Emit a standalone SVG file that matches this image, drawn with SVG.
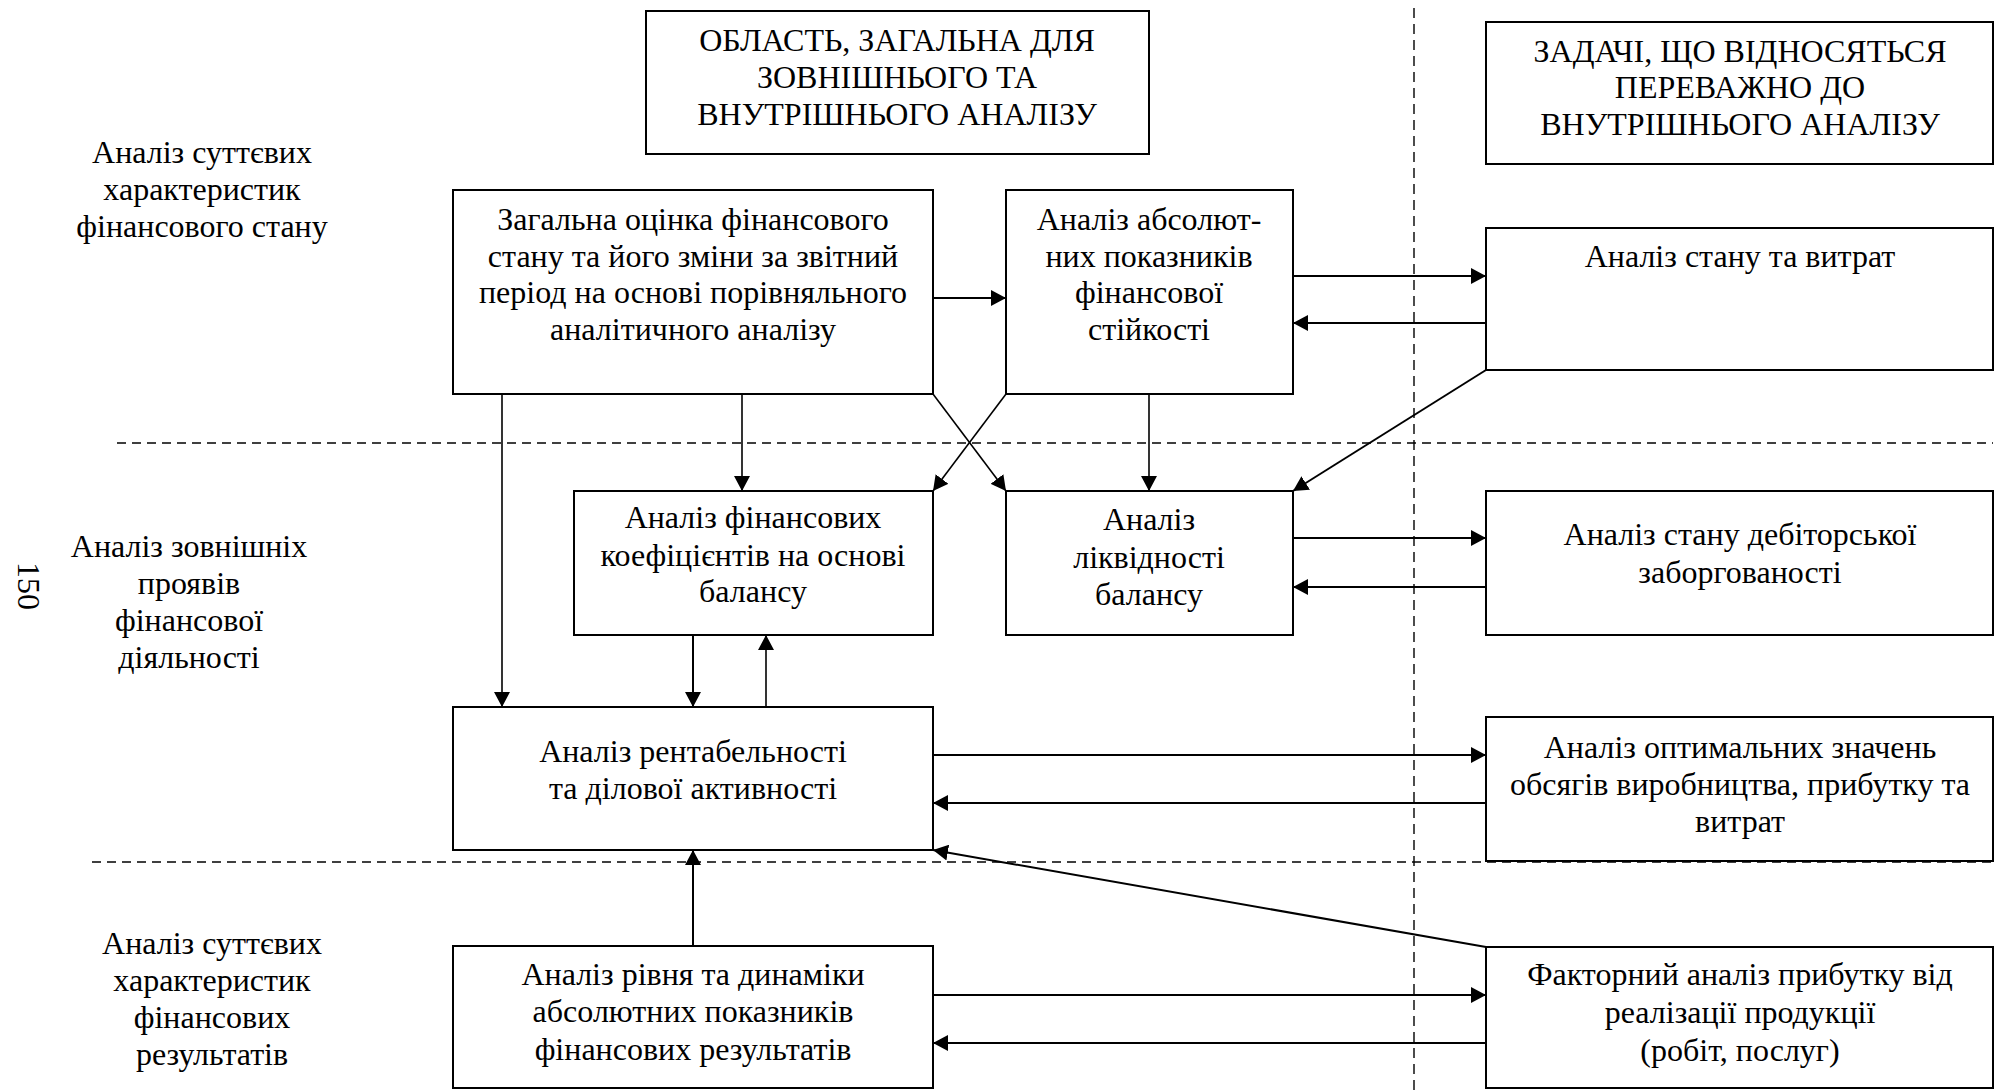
<svg xmlns="http://www.w3.org/2000/svg" width="1996" height="1090" viewBox="0 0 1996 1090">
  <style>
    .bg { fill: #ffffff; }
    .box { fill: #ffffff; stroke: #000000; stroke-width: 2; }
    .t { font-family: "Liberation Serif", "Times New Roman", serif; font-size: 32px; fill: #000000; text-anchor: middle; }
    .dash { fill: none; stroke: #000000; stroke-width: 1.6; stroke-dasharray: 9 6; }
    .vdash { fill: none; stroke: #000000; stroke-width: 1.4; stroke-dasharray: 10 6; }
    .ar { fill: none; stroke: #000000; stroke-width: 2; marker-end: url(#head); }
    .thin { stroke-width: 1.6; }
  </style>
  <defs>
    <marker id="head" markerUnits="userSpaceOnUse" markerWidth="16" markerHeight="16" refX="15" refY="8" orient="auto">
      <path d="M0,0 L15,8 L0,16 Z" fill="#000000"/>
    </marker>
  </defs>

  <rect class="bg" x="0" y="0" width="1996" height="1090"/>

  <!-- zone separators -->
  <g id="separators">
    <line class="dash" x1="117" y1="443" x2="1993" y2="443"/>
    <line class="dash" x1="92" y1="862" x2="1993" y2="862"/>
    <line class="vdash" x1="1414" y1="8" x2="1414" y2="1090"/>
  </g>

  <!-- row labels -->
  <g id="label-state">
    <text class="t" x="202" y="163">Аналіз суттєвих</text>
    <text class="t" x="202" y="200">характеристик</text>
    <text class="t" x="202" y="237">фінансового стану</text>
  </g>
  <g id="label-external">
    <text class="t" x="189" y="557">Аналіз зовнішніх</text>
    <text class="t" x="189" y="594">проявів</text>
    <text class="t" x="189" y="631">фінансової</text>
    <text class="t" x="189" y="668">діяльності</text>
  </g>
  <g id="label-results">
    <text class="t" x="212" y="954">Аналіз суттєвих</text>
    <text class="t" x="212" y="991">характеристик</text>
    <text class="t" x="212" y="1028">фінансових</text>
    <text class="t" x="212" y="1065">результатів</text>
  </g>
  <g id="page-number">
    <text class="t" x="0" y="0" transform="translate(18,586) rotate(90)">150</text>
  </g>

  <!-- connectors -->
  <g id="connectors">
    <line class="ar" x1="933" y1="298" x2="1006" y2="298"/>
    <line class="ar" x1="1293" y1="276" x2="1486" y2="276"/>
    <line class="ar" x1="1486" y1="323" x2="1293" y2="323"/>
    <line class="ar thin" x1="742" y1="394" x2="742" y2="491"/>
    <line class="ar thin" x1="502" y1="394" x2="502" y2="707"/>
    <line class="ar thin" x1="1149" y1="394" x2="1149" y2="491"/>
    <line class="ar thin" x1="933" y1="394" x2="1006" y2="491"/>
    <line class="ar thin" x1="1006" y1="394" x2="933" y2="491"/>
    <line class="ar" x1="1486" y1="370" x2="1293" y2="491"/>
    <line class="ar" x1="1293" y1="538" x2="1486" y2="538"/>
    <line class="ar" x1="1486" y1="587" x2="1293" y2="587"/>
    <line class="ar" x1="693" y1="635" x2="693" y2="707"/>
    <line class="ar thin" x1="766" y1="707" x2="766" y2="635"/>
    <line class="ar" x1="933" y1="755" x2="1486" y2="755"/>
    <line class="ar" x1="1486" y1="803" x2="933" y2="803"/>
    <line class="ar" x1="1486" y1="947" x2="933" y2="850"/>
    <line class="ar" x1="693" y1="946" x2="693" y2="850"/>
    <line class="ar" x1="933" y1="995" x2="1486" y2="995"/>
    <line class="ar" x1="1486" y1="1043" x2="933" y2="1043"/>
  </g>

  <!-- column headers -->
  <g id="header-common">
    <rect class="box" x="646" y="11" width="503" height="143"/>
    <text class="t" x="897" y="51">ОБЛАСТЬ, ЗАГАЛЬНА ДЛЯ</text>
    <text class="t" x="897" y="88">ЗОВНІШНЬОГО ТА</text>
    <text class="t" x="897" y="125">ВНУТРІШНЬОГО АНАЛІЗУ</text>
  </g>
  <g id="header-internal">
    <rect class="box" x="1486" y="22" width="507" height="142"/>
    <text class="t" x="1740" y="62">ЗАДАЧІ, ЩО ВІДНОСЯТЬСЯ</text>
    <text class="t" x="1740" y="98">ПЕРЕВАЖНО ДО</text>
    <text class="t" x="1740" y="135">ВНУТРІШНЬОГО АНАЛІЗУ</text>
  </g>

  <!-- analysis blocks -->
  <g id="general-assessment">
    <rect class="box" x="453" y="190" width="480" height="204"/>
    <text class="t" x="693" y="230">Загальна оцінка фінансового</text>
    <text class="t" x="693" y="267">стану та його зміни за звітний</text>
    <text class="t" x="693" y="303">період на основі порівняльного</text>
    <text class="t" x="693" y="340">аналітичного аналізу</text>
  </g>
  <g id="absolute-stability">
    <rect class="box" x="1006" y="190" width="287" height="204"/>
    <text class="t" x="1149" y="230">Аналіз абсолют-</text>
    <text class="t" x="1149" y="267">них показників</text>
    <text class="t" x="1149" y="303">фінансової</text>
    <text class="t" x="1149" y="340">стійкості</text>
  </g>
  <g id="state-costs">
    <rect class="box" x="1486" y="228" width="507" height="142"/>
    <text class="t" x="1740" y="267">Аналіз стану та витрат</text>
  </g>
  <g id="ratios">
    <rect class="box" x="574" y="491" width="359" height="144"/>
    <text class="t" x="753" y="528">Аналіз фінансових</text>
    <text class="t" x="753" y="566">коефіцієнтів на основі</text>
    <text class="t" x="753" y="602">балансу</text>
  </g>
  <g id="liquidity">
    <rect class="box" x="1006" y="491" width="287" height="144"/>
    <text class="t" x="1149" y="530">Аналіз</text>
    <text class="t" x="1149" y="568">ліквідності</text>
    <text class="t" x="1149" y="605">балансу</text>
  </g>
  <g id="receivables">
    <rect class="box" x="1486" y="491" width="507" height="144"/>
    <text class="t" x="1740" y="545">Аналіз стану дебіторської</text>
    <text class="t" x="1740" y="583">заборгованості</text>
  </g>
  <g id="profitability">
    <rect class="box" x="453" y="707" width="480" height="143"/>
    <text class="t" x="693" y="762">Аналіз рентабельності</text>
    <text class="t" x="693" y="799">та ділової активності</text>
  </g>
  <g id="optimal-volumes">
    <rect class="box" x="1486" y="717" width="507" height="144"/>
    <text class="t" x="1740" y="758">Аналіз оптимальних значень</text>
    <text class="t" x="1740" y="795">обсягів виробництва, прибутку та</text>
    <text class="t" x="1740" y="832">витрат</text>
  </g>
  <g id="results-dynamics">
    <rect class="box" x="453" y="946" width="480" height="142"/>
    <text class="t" x="693" y="985">Аналіз рівня та динаміки</text>
    <text class="t" x="693" y="1022">абсолютних показників</text>
    <text class="t" x="693" y="1060">фінансових результатів</text>
  </g>
  <g id="factor-profit">
    <rect class="box" x="1486" y="947" width="507" height="141"/>
    <text class="t" x="1740" y="985">Факторний аналіз прибутку від</text>
    <text class="t" x="1740" y="1023">реалізації продукції</text>
    <text class="t" x="1740" y="1061">(робіт, послуг)</text>
  </g>
</svg>
